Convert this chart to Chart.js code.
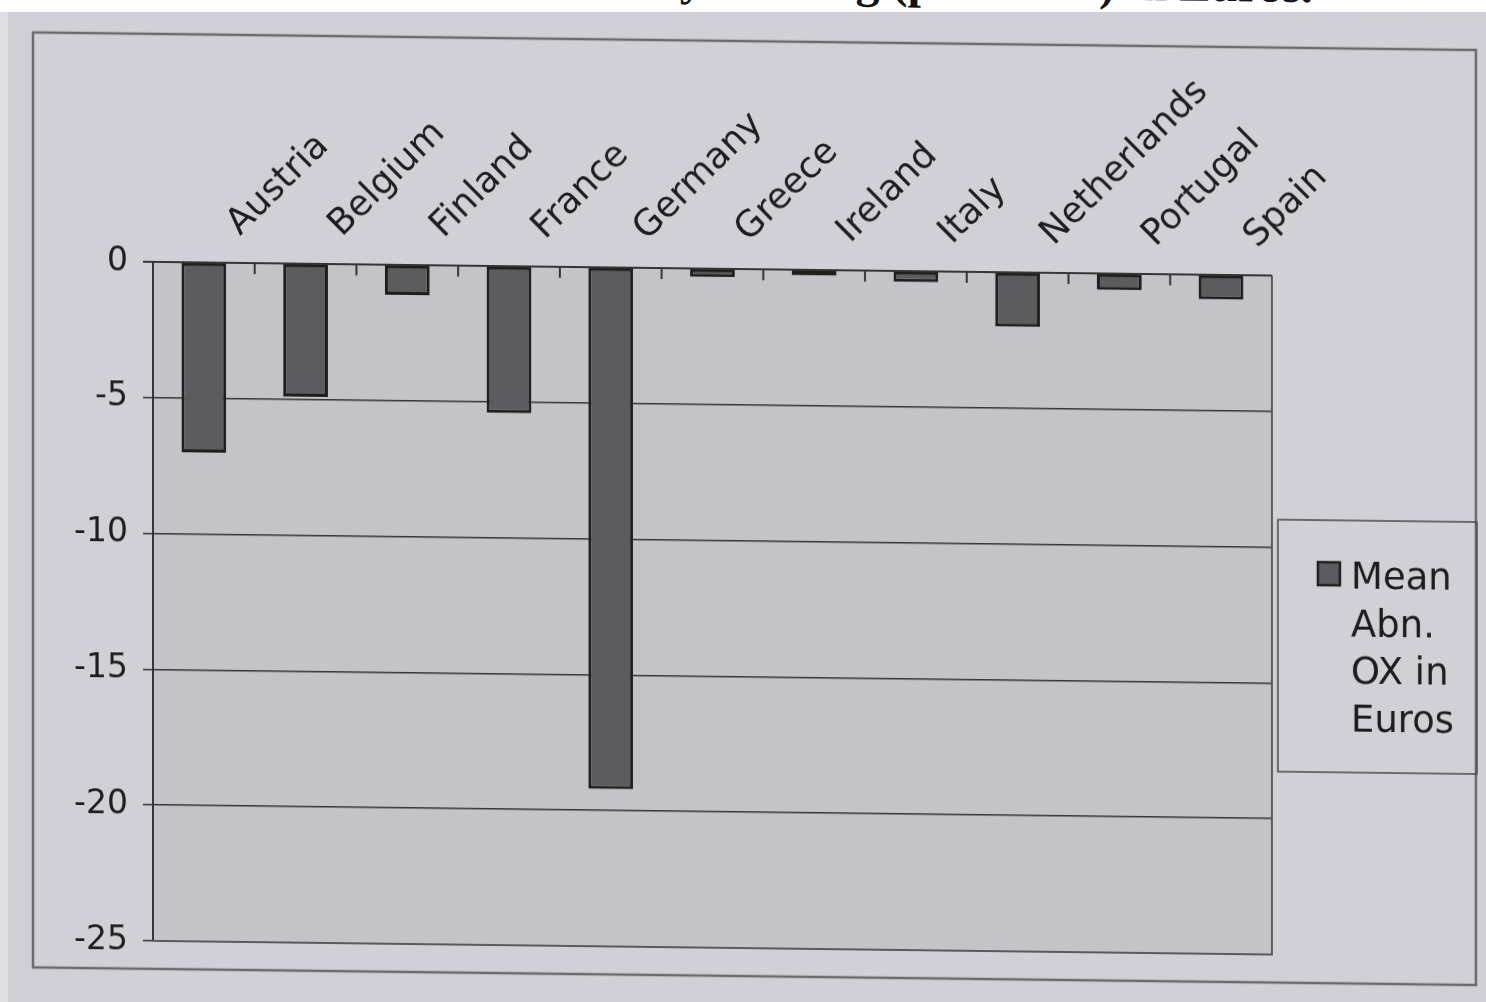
<!DOCTYPE html>
<html>
<head>
<meta charset="utf-8">
<script src="https://cdn.jsdelivr.net/npm/chart.js@4"></script>
<style>
  html, body { margin: 0; padding: 0; background: #d0d0d6; overflow: hidden; }
  #title {
    position: absolute; left: 0; top: 0; width: 1486px; height: 12px;
    background: #ffffff; overflow: hidden; z-index: 2;
  }
  #title span {
    position: absolute; left: -6px; top: -39px; width: 1486px; text-align: center;
    font: bold 48px "Liberation Serif", "Times New Roman", serif; line-height: 48px;
    color: #141414; white-space: nowrap;
    transform: skewY(0.7deg); transform-origin: 1230px 0;
  }
  #chart { position: absolute; left: 0; top: 0; transform: skewY(0.7deg); transform-origin: 0 0; }
</style>
</head>
<body>
<div id="title"><span>Mean Abnormal OX Daily Trading (per share) in Euros.</span></div>
<canvas id="chart" width="1486" height="1002"></canvas>
<script>
// Countries along the top axis
const countries = ['Austria', 'Belgium', 'Finland', 'France', 'Germany', 'Greece',
                   'Ireland', 'Italy', 'Netherlands', 'Portugal', 'Spain'];
// Mean abnormal OX per country, in euros
const meanAbnOX = [-7.0, -4.9, -1.1, -5.4, -19.2, -0.3, -0.2, -0.4, -2.0, -0.6, -0.9];
// Legend text, one entry per line
const seriesLabel = ['Mean', 'Abn.', 'OX in', 'Euros'];
// Value-axis ticks
const yTicks = [0, -5, -10, -15, -20, -25];

const FONT = '"DejaVu Sans", Verdana, sans-serif';
const BAR_FILL = '#5c5c5f';
const BAR_EDGE = '#211d1d';
const LINE = '#363434';

const backdrop = {
  id: 'backdrop',
  beforeDraw(chart) {
    const { ctx, chartArea: a, width, height } = chart;
    ctx.save();
    ctx.fillStyle = '#d0d0d6';
    ctx.fillRect(0, 0, width, height);
    ctx.fillStyle = '#e0e0e4';
    ctx.fillRect(0, 0, 8, height);
    // outer chart frame
    ctx.strokeStyle = '#6c6a6c';
    ctx.lineWidth = 2.5;
    ctx.strokeRect(33, 32, 1443, 935);
    // plot area
    ctx.fillStyle = '#c3c3c8';
    ctx.fillRect(a.left, a.top, a.right - a.left, a.bottom - a.top);
    ctx.restore();
  },
  afterDraw(chart) {
    const { ctx, chartArea: a } = chart;
    ctx.save();
    // plot frame: right and bottom edges
    ctx.strokeStyle = '#5a5a5c';
    ctx.lineWidth = 2;
    ctx.beginPath();
    ctx.moveTo(a.right, a.top);
    ctx.lineTo(a.right, a.bottom);
    ctx.lineTo(a.left, a.bottom);
    ctx.stroke();
    // zero line and inward category ticks
    ctx.strokeStyle = LINE;
    ctx.lineWidth = 2;
    ctx.beginPath();
    ctx.moveTo(a.left - 10, a.top);
    ctx.lineTo(a.right, a.top);
    const n = countries.length;
    const step = (a.right - a.left) / n;
    for (let i = 1; i < n; i++) {
      const px = a.left + i * step;
      ctx.moveTo(px, a.top);
      ctx.lineTo(px, a.top + 11);
    }
    ctx.stroke();

    // legend
    const ds = chart.data.datasets[0];
    const bx = 1278, by = 504, bw = 199, bh = 252;
    ctx.strokeStyle = '#4a4a4c';
    ctx.lineWidth = 1.5;
    ctx.strokeRect(bx, by, bw, bh);
    ctx.fillStyle = ds.backgroundColor;
    ctx.fillRect(1318, 546, 22, 23);
    ctx.strokeStyle = ds.borderColor;
    ctx.lineWidth = 2.5;
    ctx.strokeRect(1318, 546, 22, 23);
    ctx.fillStyle = '#1c1c1c';
    ctx.font = '37px ' + FONT;
    ctx.textAlign = 'left';
    ctx.textBaseline = 'alphabetic';
    seriesLabel.forEach((t, i) => ctx.fillText(t, 1351, 572 + i * 47.5));
    ctx.restore();
  }
};

new Chart(document.getElementById('chart'), {
  type: 'bar',
  data: {
    labels: countries,
    datasets: [{
      label: seriesLabel.join(' '),
      data: meanAbnOX,
      backgroundColor: BAR_FILL,
      borderColor: BAR_EDGE,
      borderWidth: 3,
      borderSkipped: false,
      categoryPercentage: 1.0,
      barPercentage: 0.44
    }]
  },
  options: {
    responsive: false,
    animation: false,
    devicePixelRatio: 1,
    layout: { padding: { left: 0, top: 0, right: 214, bottom: 63 } },
    plugins: { legend: { display: false }, tooltip: { enabled: false }, title: { display: false } },
    scales: {
      x: {
        position: 'top',
        offset: true,
        grid: { display: false, drawTicks: false },
        border: { display: false },
        ticks: {
          autoSkip: false,
          minRotation: 45,
          maxRotation: 45,
          padding: 18,
          labelOffset: 60,
          color: '#1e1e1e',
          font: { family: FONT, size: 36 }
        },
        afterFit(s) { s.height = 260; }
      },
      y: {
        min: -25,
        max: 0,
        afterBuildTicks(s) { s.ticks = yTicks.map(v => ({ value: v })); },
        grid: { color: LINE, lineWidth: 1.5, tickLength: 10, drawTicks: true },
        border: { display: true, color: LINE, width: 2 },
        ticks: {
          padding: 15,
          color: '#1e1e1e',
          font: { family: FONT, size: 33 },
          callback: v => String(v)
        },
        afterFit(s) { s.width = 153; }
      }
    }
  },
  plugins: [backdrop]
});
</script>
</body>
</html>
